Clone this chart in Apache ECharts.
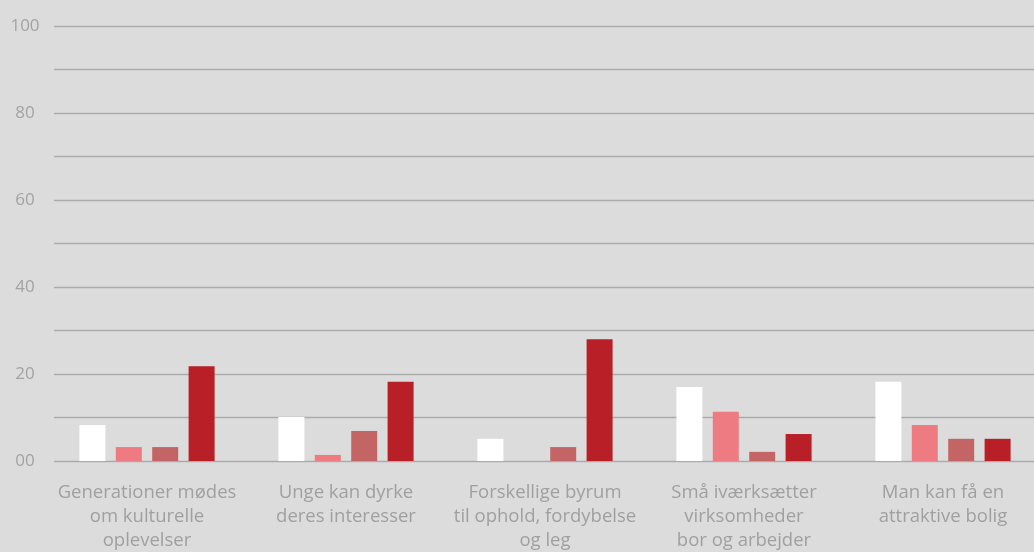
<!DOCTYPE html>
<html>
<head>
<meta charset="utf-8">
<script src="https://cdn.jsdelivr.net/npm/echarts@6/dist/echarts.min.js"></script>
<style>
  html, body { margin: 0; padding: 0; background: #dcdcdc; }
  #chart { width: 1034px; height: 552px; }
</style>
</head>
<body>
<div id="chart"></div>
<script>
// kategorier
const categories = [
  'Generationer mødes\nom kulturelle\noplevelser',
  'Unge kan dyrke\nderes interesser',
  'Forskellige byrum\ntil ophold, fordybelse\nog leg',
  'Små iværksætter\nvirksomheder\nbor og arbejder',
  'Man kan få en\nattraktive bolig'
];
// serier
const seriesA = [8.3, 10.1, 5.1, 17.0, 18.2];
const seriesB = [3.2, 1.4, 0, 11.3, 8.3];
const seriesC = [3.2, 6.9, 3.2, 2.1, 5.1];
const seriesD = [21.8, 18.2, 28.0, 6.2, 5.1];
const colors = ['#ffffff', '#ee7b82', '#c46565', '#b81f27'];
const yTicks = [0, 20, 40, 60, 80, 100];

const font = '"Open Sans", Lato, sans-serif';
const chart = echarts.init(document.getElementById('chart'), null, { renderer: 'canvas' });

const bar = (data, i) => ({
  type: 'bar',
  data: data,
  xAxisIndex: 0,
  yAxisIndex: 0,
  barWidth: 26,
  barGap: '40%',
  itemStyle: { color: colors[i] },
  z: 3
});

chart.setOption({
  backgroundColor: '#dcdcdc',
  animation: false,
  grid: [
    { left: 47.5, width: 995, top: 26, bottom: 91, outerBoundsMode: 'none', containLabel: false },
    { left: 54, right: 0, top: 26, bottom: 91, outerBoundsMode: 'none', containLabel: false }
  ],
  xAxis: [
    {
      type: 'category',
      gridIndex: 0,
      data: categories,
      axisLine: { show: false },
      axisTick: { show: false },
      axisLabel: {
        interval: 0,
        margin: 20,
        color: '#a0a0a0',
        fontFamily: font,
        fontSize: 18.5,
        lineHeight: 24,
        align: 'center'
      }
    },
    { type: 'value', gridIndex: 1, show: false }
  ],
  yAxis: [
    { type: 'value', gridIndex: 0, min: 0, max: 100, interval: 10, show: false },
    {
      type: 'value',
      gridIndex: 1,
      min: 0,
      max: 100,
      interval: 10,
      axisLine: { show: false },
      axisTick: { show: false },
      splitLine: { lineStyle: { color: '#ababab', width: 1.3 } },
      axisLabel: {
        margin: 29,
        align: 'center',
        color: '#a3a3a3',
        fontFamily: font,
        fontSize: 17,
        padding: [0, 0, 7, 0],
        formatter: v => yTicks.indexOf(v) < 0 ? '' : (v === 0 ? '00' : String(v))
      }
    }
  ],
  series: [seriesA, seriesB, seriesC, seriesD].map(bar)
});
</script>
</body>
</html>
